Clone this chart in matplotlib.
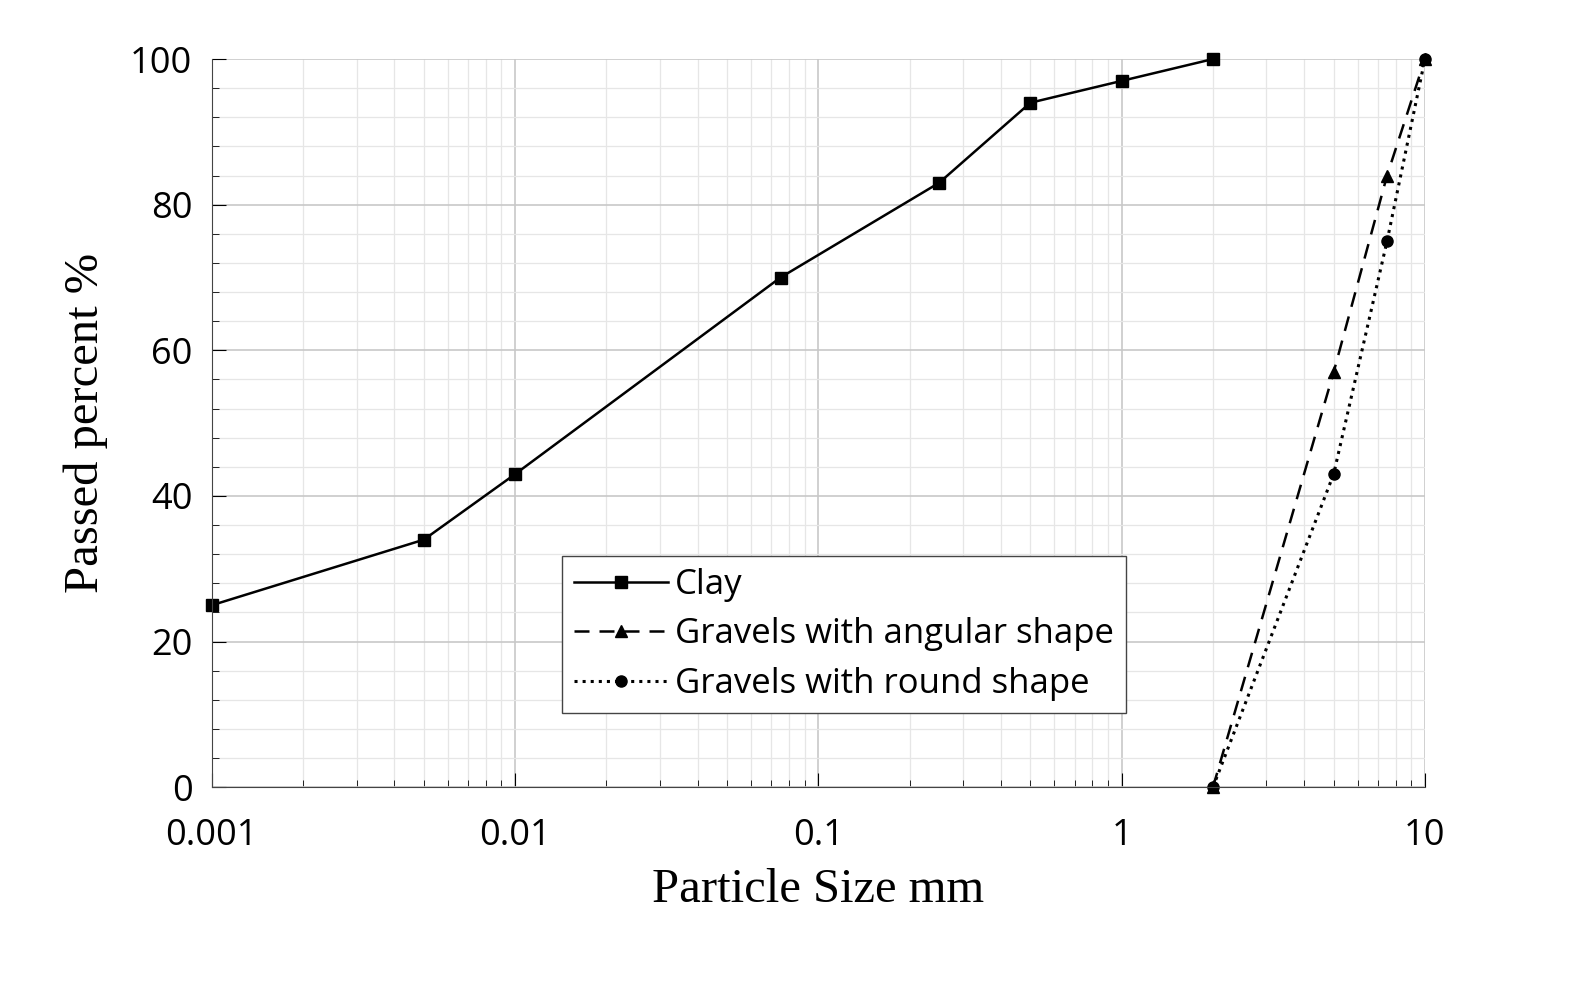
import numpy as np
import matplotlib.pyplot as plt
from matplotlib.ticker import MultipleLocator, LogLocator, FixedFormatter, FixedLocator

clay_x = [0.001, 0.005, 0.01, 0.075, 0.25, 0.5, 1, 2]
clay_y = [25, 34, 43, 70, 83, 94, 97, 100]
ang_x = [2, 5, 7.5, 10]
ang_y = [0, 57, 84, 100]
round_x = [2, 5, 7.5, 10]
round_y = [0, 43, 75, 100]
xticks = [0.001, 0.01, 0.1, 1, 10]
xticklabels = ["0.001", "0.01", "0.1", "1", "10"]

fig = plt.figure(figsize=(15.93, 9.94), dpi=100)
ax = fig.add_axes([0.133, 0.208, 0.7615, 0.7326])

ax.plot(clay_x, clay_y, '-', color='black', lw=1.8, marker='s', ms=8, clip_on=False, label='Clay')
ax.plot(ang_x, ang_y, '--', color='black', lw=1.8, marker='^', ms=8, clip_on=False,
        dashes=(6, 4), label='Gravels with angular shape')
ax.plot(round_x, round_y, ':', color='black', lw=2.2, marker='o', ms=8, clip_on=False,
        label='Gravels with round shape')

ax.set_xscale('log')
ax.set_xlim(0.001, 10)
ax.set_ylim(0, 100)
ax.xaxis.set_major_locator(FixedLocator(xticks))
ax.xaxis.set_major_formatter(FixedFormatter(xticklabels))
ax.xaxis.set_minor_locator(LogLocator(base=10, subs=np.arange(2, 10)))
ax.yaxis.set_major_locator(MultipleLocator(20))
ax.yaxis.set_minor_locator(MultipleLocator(4))

ax.grid(which='major', color='#c8c8c8', lw=1.2)
ax.grid(which='minor', color='#e6e6e6', lw=0.9)
ax.set_axisbelow(True)
for s in ['top', 'right']:
    ax.spines[s].set_visible(False)
for s in ['left', 'bottom']:
    ax.spines[s].set_color('#444444')

ax.tick_params(which='major', direction='in', length=10, labelsize=26,
               labelfontfamily='Open Sans')
ax.tick_params(axis='x', which='major', pad=22)
ax.tick_params(axis='y', which='major', pad=14)
ax.tick_params(which='minor', direction='in', length=5)

ax.set_xlabel('Particle Size mm', family='Liberation Serif', fontsize=35, labelpad=10)
ax.set_ylabel('Passed percent %', family='Liberation Serif', fontsize=35, labelpad=16)

leg = ax.legend(loc='lower left', bbox_to_anchor=(0.2745, 0.078), fancybox=False,
                framealpha=1, edgecolor='#444444', handlelength=2.7, handletextpad=0.2,
                borderpad=0.35, labelspacing=0.45, prop={'family': 'Open Sans', 'size': 25})

fig.savefig('out.png', dpi=100)
